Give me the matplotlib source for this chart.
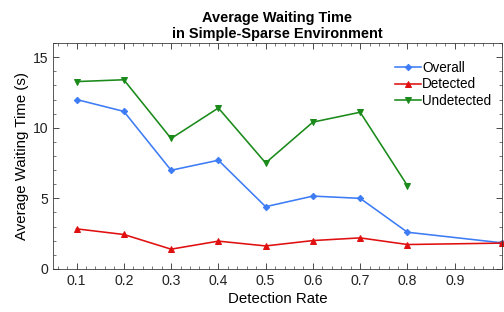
import matplotlib
matplotlib.use("Agg")
import matplotlib.pyplot as plt
from matplotlib.ticker import MultipleLocator

# detection rate (no run at 0.9)
rate = [0.1, 0.2, 0.3, 0.4, 0.5, 0.6, 0.7, 0.8, 1.0]
overall = [12.0, 11.16, 6.99, 7.7, 4.41, 5.16, 5.0, 2.6, 1.85]
detected = [2.84, 2.44, 1.4, 1.97, 1.63, 2.01, 2.2, 1.73, 1.83]
undetected_rate = [0.1, 0.2, 0.3, 0.4, 0.5, 0.6, 0.7, 0.8]
undetected = [13.27, 13.4, 9.24, 11.4, 7.51, 10.4, 11.1, 5.9]

plt.rcParams['font.family'] = ['Liberation Sans', 'DejaVu Sans']

fig = plt.figure(figsize=(7, 312 / 72), dpi=72)
ax = fig.add_axes([0.105, 0.138, 0.891, 0.724])

ax.plot(rate, overall, color='#3d7cf5', marker='D', markersize=4.5, lw=1.6, label='Overall', clip_on=False)
ax.plot(rate, detected, color='#e01010', marker='^', markersize=5.5, lw=1.6, label='Detected', clip_on=False)
ax.plot(undetected_rate, undetected, color='#1a8a1a', marker='v', markersize=5.5, lw=1.6, label='Undetected', clip_on=False)

ax.set_xlim(0.05, 1.0)
ax.set_ylim(0, 16)
ax.set_xticks([0.1, 0.2, 0.3, 0.4, 0.5, 0.6, 0.7, 0.8, 0.9])
ax.set_xticklabels(['0.1', '0.2', '0.3', '0.4', '0.5', '0.6', '0.7', '0.8', '0.9'])
ax.set_yticks([0, 5, 10, 15])
ax.xaxis.set_minor_locator(MultipleLocator(0.02))
ax.yaxis.set_minor_locator(MultipleLocator(1))
ax.tick_params(which='both', direction='in', top=True, right=True, labelsize=14, colors='#222222')
ax.tick_params(which='major', length=6, pad=5)
ax.tick_params(which='minor', length=3)
for s in ax.spines.values():
    s.set_color('#333333')

ax.set_xlabel('Detection Rate', fontsize=15, labelpad=4)
ax.set_ylabel('Average Waiting Time (s)', fontsize=15, labelpad=3)
ax.set_title('Average Waiting Time\nin Simple-Sparse Environment', fontsize=14.5, fontweight='bold',
             linespacing=1.2, pad=5)

ax.legend(loc='upper right', frameon=False, fontsize=13.5, handlelength=1.9, handletextpad=0.1,
          labelspacing=0.2, borderaxespad=0.4, bbox_to_anchor=(1.0, 0.97))

fig.savefig('out.png', dpi=72)
